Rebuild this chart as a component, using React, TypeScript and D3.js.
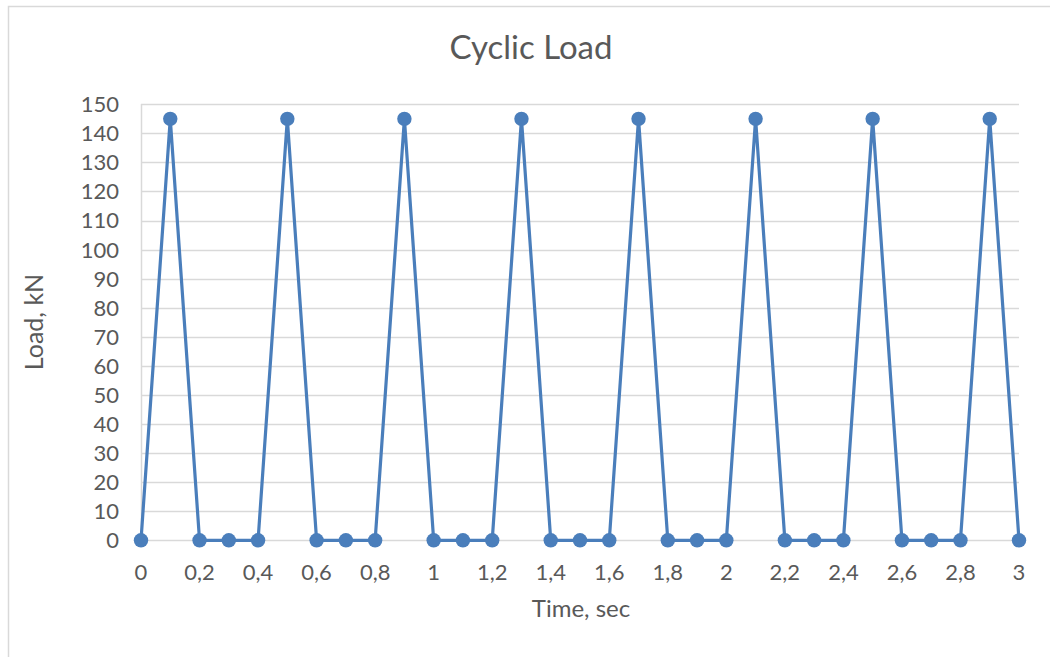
import React from "react";
import * as d3 from "d3";

const times = [0, 0.1, 0.2, 0.3, 0.4, 0.5, 0.6, 0.7, 0.8, 0.9, 1.0, 1.1, 1.2, 1.3, 1.4, 1.5, 1.6, 1.7, 1.8, 1.9, 2.0, 2.1, 2.2, 2.3, 2.4, 2.5, 2.6, 2.7, 2.8, 2.9, 3.0];
const loads = [0, 145, 0, 0, 0, 145, 0, 0, 0, 145, 0, 0, 0, 145, 0, 0, 0, 145, 0, 0, 0, 145, 0, 0, 0, 145, 0, 0, 0, 145, 0];
const xTicks = [0, 0.2, 0.4, 0.6, 0.8, 1, 1.2, 1.4, 1.6, 1.8, 2, 2.2, 2.4, 2.6, 2.8, 3];
const yTicks = [0, 10, 20, 30, 40, 50, 60, 70, 80, 90, 100, 110, 120, 130, 140, 150];
const title = "Cyclic Load";
const xTitle = "Time, sec";
const yTitle = "Load, kN";

export default function App() {
  const W = 1050, H = 657;
  const x = d3.scaleLinear().domain([0, 3]).range([141, 1019]);
  const y = d3.scaleLinear().domain([0, 150]).range([540.3, 104.3]);
  const pts = times.map((t, i) => [t, loads[i]] as [number, number]);
  const line = d3.line<[number, number]>().x(d => x(d[0])).y(d => y(d[1]));
  const fmt = (v: number) => String(Math.round(v * 10) / 10).replace(".", ",");
  const font = "Lato, 'Open Sans', sans-serif";
  const txt = "#595959";
  const grid = "#d9d9d9";
  const blue = "#4a7ebb";
  return (
    <svg width={W} height={H} style={{ position: "absolute", left: 0, top: 0, background: "#fff" }}>
      <rect x={8.5} y={6.5} width={1060} height={700} fill="#fff" stroke={grid} strokeWidth={1.5} />
      <text x={531} y={59} textAnchor="middle" fontFamily={font} fontSize={33} fill={txt}>{title}</text>
      {yTicks.map(v => (
        <g key={"y" + v}>
          <line x1={141} x2={1019} y1={Math.round(y(v)) + 0.5} y2={Math.round(y(v)) + 0.5} stroke={grid} strokeWidth={1.5} />
          <text x={119} y={y(v)} dy="0.36em" textAnchor="end" fontFamily={font} fontSize={22} fill={txt}>{v}</text>
        </g>
      ))}
      <line x1={141.5} x2={141.5} y1={104} y2={540} stroke={grid} strokeWidth={1.5} />
      {xTicks.map(v => (
        <text key={"x" + v} x={x(v)} y={580} textAnchor="middle" fontFamily={font} fontSize={22} fill={txt}>{fmt(v)}</text>
      ))}
      <text x={581} y={617} textAnchor="middle" fontFamily={font} fontSize={24} fill={txt}>{xTitle}</text>
      <text transform="translate(43,322) rotate(-90)" textAnchor="middle" fontFamily={font} fontSize={25} fill={txt}>{yTitle}</text>
      <path d={line(pts) || ""} fill="none" stroke={blue} strokeWidth={3.2} strokeLinejoin="round" />
      {pts.map((p, i) => (
        <circle key={"p" + i} cx={x(p[0])} cy={y(p[1])} r={7.2} fill={blue} />
      ))}
    </svg>
  );
}
